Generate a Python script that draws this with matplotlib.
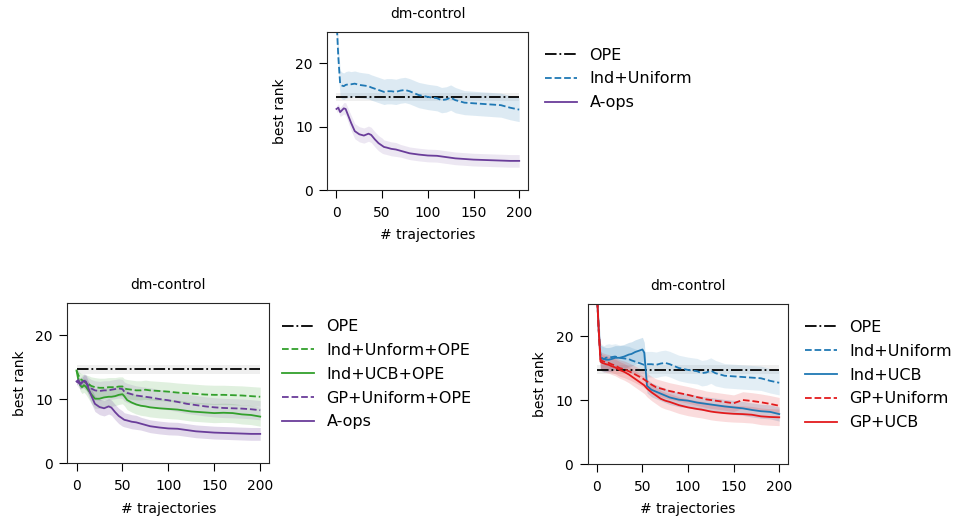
import numpy as np
import matplotlib
matplotlib.use("Agg")
from matplotlib import pyplot as plt

# checkpoints (# trajectories) shared by all the curves
x = [0, 2, 4, 6, 8, 10, 13, 16, 20, 25, 30, 35, 38, 42, 46, 50, 52, 55, 60, 65,
     70, 75, 80, 90, 100, 110, 115, 120, 125, 130, 140, 150, 160, 170, 180, 190, 200]

# OPE baseline
ope_x = [0, 200]
ope_y = [14.7, 14.7]
ope_err = [0.7, 0.7]

# Ind+Uniform (same curve in top and bottom-right panels)
ind_uniform = [27.0, 21.0, 16.8, 16.5, 16.4, 16.6, 16.7, 16.7, 16.8, 16.6, 16.5, 16.4, 16.2, 16.0, 15.8,
               15.6, 15.5, 15.6, 15.6, 15.5, 15.7, 15.8, 15.6, 15.0, 14.7, 14.5, 14.2, 14.3, 14.6, 14.2,
               13.8, 13.7, 13.6, 13.5, 13.4, 13.0, 12.7]
ind_uniform_err = [2.5, 2.3, 2.1, 2.1, 2.1, 2.1, 2.1, 2.0, 2.0, 2.0, 2.0, 2.0, 2.0, 2.0, 2.0,
                   2.0, 2.0, 2.0, 2.0, 2.0, 2.0, 2.0, 2.0, 2.0, 2.0, 2.0, 2.0, 2.0, 2.0, 2.0,
                   1.9, 1.9, 1.9, 1.9, 1.9, 1.9, 1.9]

# A-ops (same curve in top and bottom-left panels)
a_ops = [12.8, 13.0, 12.3, 12.6, 12.9, 12.8, 11.7, 10.6, 9.3, 8.8, 8.6, 8.9, 8.7, 8.0, 7.4,
         7.0, 6.8, 6.7, 6.5, 6.4, 6.2, 6.0, 5.8, 5.6, 5.45, 5.4, 5.3, 5.2, 5.1, 5.0,
         4.9, 4.8, 4.75, 4.7, 4.65, 4.6, 4.6]
a_ops_err = [0.5, 0.6, 0.7, 0.8, 0.9, 1.0, 1.1, 1.2, 1.2, 1.2, 1.2, 1.2, 1.2, 1.2, 1.2,
             1.2, 1.1, 1.1, 1.1, 1.1, 1.0, 1.0, 1.0, 1.0, 1.0, 1.0, 1.0, 1.0, 1.0, 1.0,
             1.0, 1.0, 1.0, 1.0, 1.0, 1.0, 1.0]

# bottom-left: with OPE
ind_unif_ope = [14.5, 13.8, 13.2, 13.0, 12.8, 12.6, 12.4, 12.1, 11.9, 11.8, 11.8, 11.9, 11.9, 11.9, 12.0,
                12.0, 11.7, 11.6, 11.5, 11.4, 11.4, 11.5, 11.4, 11.3, 11.2, 11.05, 11.0, 10.95, 10.9, 10.85,
                10.75, 10.7, 10.7, 10.65, 10.6, 10.5, 10.4]
ind_ucb_ope = [14.5, 13.0, 12.2, 11.9, 12.2, 12.0, 11.4, 10.8, 10.1, 10.1, 10.3, 10.4, 10.4, 10.5, 10.7,
               10.8, 10.5, 9.9, 9.5, 9.2, 9.0, 8.9, 8.75, 8.6, 8.5, 8.4, 8.3, 8.2, 8.1, 8.05,
               7.95, 7.85, 7.9, 7.85, 7.65, 7.55, 7.3]
gp_unif_ope = [12.8, 12.6, 12.5, 12.7, 12.9, 12.7, 12.1, 11.7, 11.4, 11.3, 11.4, 11.4, 11.5, 11.6, 11.7,
               11.6, 11.2, 11.0, 10.8, 10.6, 10.5, 10.4, 10.3, 10.05, 9.85, 9.6, 9.45, 9.3, 9.2, 9.1,
               8.9, 8.75, 8.65, 8.6, 8.55, 8.45, 8.3]
ope_band_err = [0.5, 0.7, 0.9, 1.0, 1.1, 1.2, 1.3, 1.4, 1.5, 1.5, 1.5, 1.5, 1.5, 1.5, 1.5,
                1.5, 1.5, 1.5, 1.5, 1.5, 1.5, 1.5, 1.5, 1.5, 1.5, 1.5, 1.5, 1.5, 1.5, 1.5,
                1.5, 1.5, 1.5, 1.5, 1.5, 1.5, 1.5]

# bottom-right: UCB / GP variants
ind_ucb = [27.0, 21.0, 16.6, 16.5, 16.4, 16.3, 16.3, 16.4, 16.6, 16.6, 16.8, 17.1, 17.2, 17.5, 17.7,
           17.9, 17.4, 12.2, 11.6, 11.3, 11.0, 10.7, 10.4, 10.05, 9.9, 9.6, 9.5, 9.4, 9.3, 9.2,
           9.0, 8.85, 8.7, 8.45, 8.25, 8.15, 7.8]
ind_ucb_err = [2.5, 2.2, 2.0, 1.9, 1.9, 1.9, 1.9, 1.9, 1.9, 1.9, 1.9, 1.9, 1.9, 1.9, 1.9,
               1.9, 1.6, 1.1, 1.1, 1.1, 1.1, 1.1, 1.1, 1.1, 1.1, 1.1, 1.1, 1.1, 1.1, 1.1,
               1.1, 1.1, 1.1, 1.1, 1.1, 1.1, 1.1]
gp_uniform = [27.0, 21.0, 16.3, 16.1, 16.0, 15.9, 15.8, 15.6, 15.4, 15.0, 14.8, 14.5, 14.3, 14.0, 13.7,
              13.4, 13.2, 12.9, 12.4, 12.0, 11.8, 11.6, 11.4, 11.1, 10.8, 10.45, 10.3, 10.1, 10.0, 9.9,
              9.7, 9.5, 10.0, 9.85, 9.65, 9.4, 9.1]
gp_ucb = [27.0, 21.0, 16.0, 15.8, 15.7, 15.6, 15.5, 15.3, 15.1, 14.7, 14.4, 14.0, 13.7, 13.3, 12.9,
          12.5, 12.3, 11.8, 11.2, 10.7, 10.2, 9.9, 9.7, 9.2, 8.85, 8.6, 8.5, 8.35, 8.2, 8.1,
          7.95, 7.85, 7.8, 7.7, 7.45, 7.35, 7.3]
gp_err = [2.0, 1.6, 1.3, 1.3, 1.3, 1.3, 1.3, 1.3, 1.3, 1.3, 1.3, 1.3, 1.3, 1.3, 1.3,
          1.3, 1.3, 1.3, 1.3, 1.3, 1.3, 1.3, 1.3, 1.3, 1.3, 1.3, 1.3, 1.3, 1.3, 1.3,
          1.3, 1.3, 1.3, 1.3, 1.3, 1.3, 1.3]

BLUE, GREEN, RED, PURPLE = '#1f78b4', '#33a02c', '#e31a1c', '#6a3d9a'

plt.rcParams['font.family'] = 'DejaVu Sans'
plt.rcParams['font.size'] = 10
plt.rcParams['xtick.major.size'] = 6
plt.rcParams['ytick.major.size'] = 6
plt.rcParams['xtick.major.pad'] = 5.5
plt.rcParams['ytick.major.pad'] = 4.5
plt.rcParams['axes.edgecolor'] = '#262626'


def band(ax, xs, ys, err, color, alpha):
    ys = np.array(ys)
    err = np.array(err)
    ax.fill_between(xs, ys - err, ys + err, color=color, alpha=alpha, lw=0)


def curve(ax, xs, ys, err, color, ls, label, alpha=0.15):
    band(ax, xs, ys, err, color, alpha)
    ax.plot(xs, ys, color=color, ls=ls, lw=1.3, label=label)


def ope(ax):
    band(ax, ope_x, ope_y, ope_err, '#999999', 0.15)
    ax.plot(ope_x, ope_y, color='black', ls='-.', lw=1.3, label='OPE')


def style(ax, anchor_x):
    ax.set_xlim(-10, 210)
    ax.set_ylim(0, 25)
    ax.set_xticks([0, 50, 100, 150, 200])
    ax.set_yticks([0, 10, 20])
    ax.set_xlabel('# trajectories', labelpad=6)
    ax.set_ylabel('best rank', labelpad=6)
    ax.set_title('dm-control', fontsize=10, pad=10)
    ax.legend(loc='upper left', bbox_to_anchor=(anchor_x, 0.99), frameon=False,
              fontsize=11.5, labelspacing=0.55)


fig = plt.figure(figsize=(9.58, 5.21), dpi=100)

# top panel
ax1 = fig.add_axes([0.3417, 0.6353, 0.2098, 0.3038])
ope(ax1)
curve(ax1, x, ind_uniform, ind_uniform_err, BLUE, '--', 'Ind+Uniform')
curve(ax1, x, a_ops, a_ops_err, PURPLE, '-', 'A-ops', alpha=0.12)
style(ax1, 1.01)

# bottom-left panel
ax2 = fig.add_axes([0.0703, 0.1107, 0.2109, 0.3071])
ope(ax2)
curve(ax2, x, ind_unif_ope, ope_band_err, GREEN, '--', 'Ind+Unform+OPE', alpha=0.15)
curve(ax2, x, ind_ucb_ope, ope_band_err, GREEN, '-', 'Ind+UCB+OPE', alpha=0.15)
curve(ax2, x, gp_unif_ope, ope_band_err, PURPLE, '--', 'GP+Uniform+OPE', alpha=0.12)
curve(ax2, x, a_ops, a_ops_err, PURPLE, '-', 'A-ops', alpha=0.2)
style(ax2, 0.99)

# bottom-right panel
ax3 = fig.add_axes([0.6135, 0.1094, 0.2094, 0.307])
ope(ax3)
curve(ax3, x, ind_uniform, ind_uniform_err, BLUE, '--', 'Ind+Uniform', alpha=0.12)
curve(ax3, x, ind_ucb, ind_ucb_err, BLUE, '-', 'Ind+UCB', alpha=0.2)
curve(ax3, x, gp_uniform, gp_err, RED, '--', 'GP+Uniform', alpha=0.15)
curve(ax3, x, gp_ucb, gp_err, RED, '-', 'GP+UCB', alpha=0.15)
style(ax3, 1.01)

fig.savefig('out.png', dpi=100)
